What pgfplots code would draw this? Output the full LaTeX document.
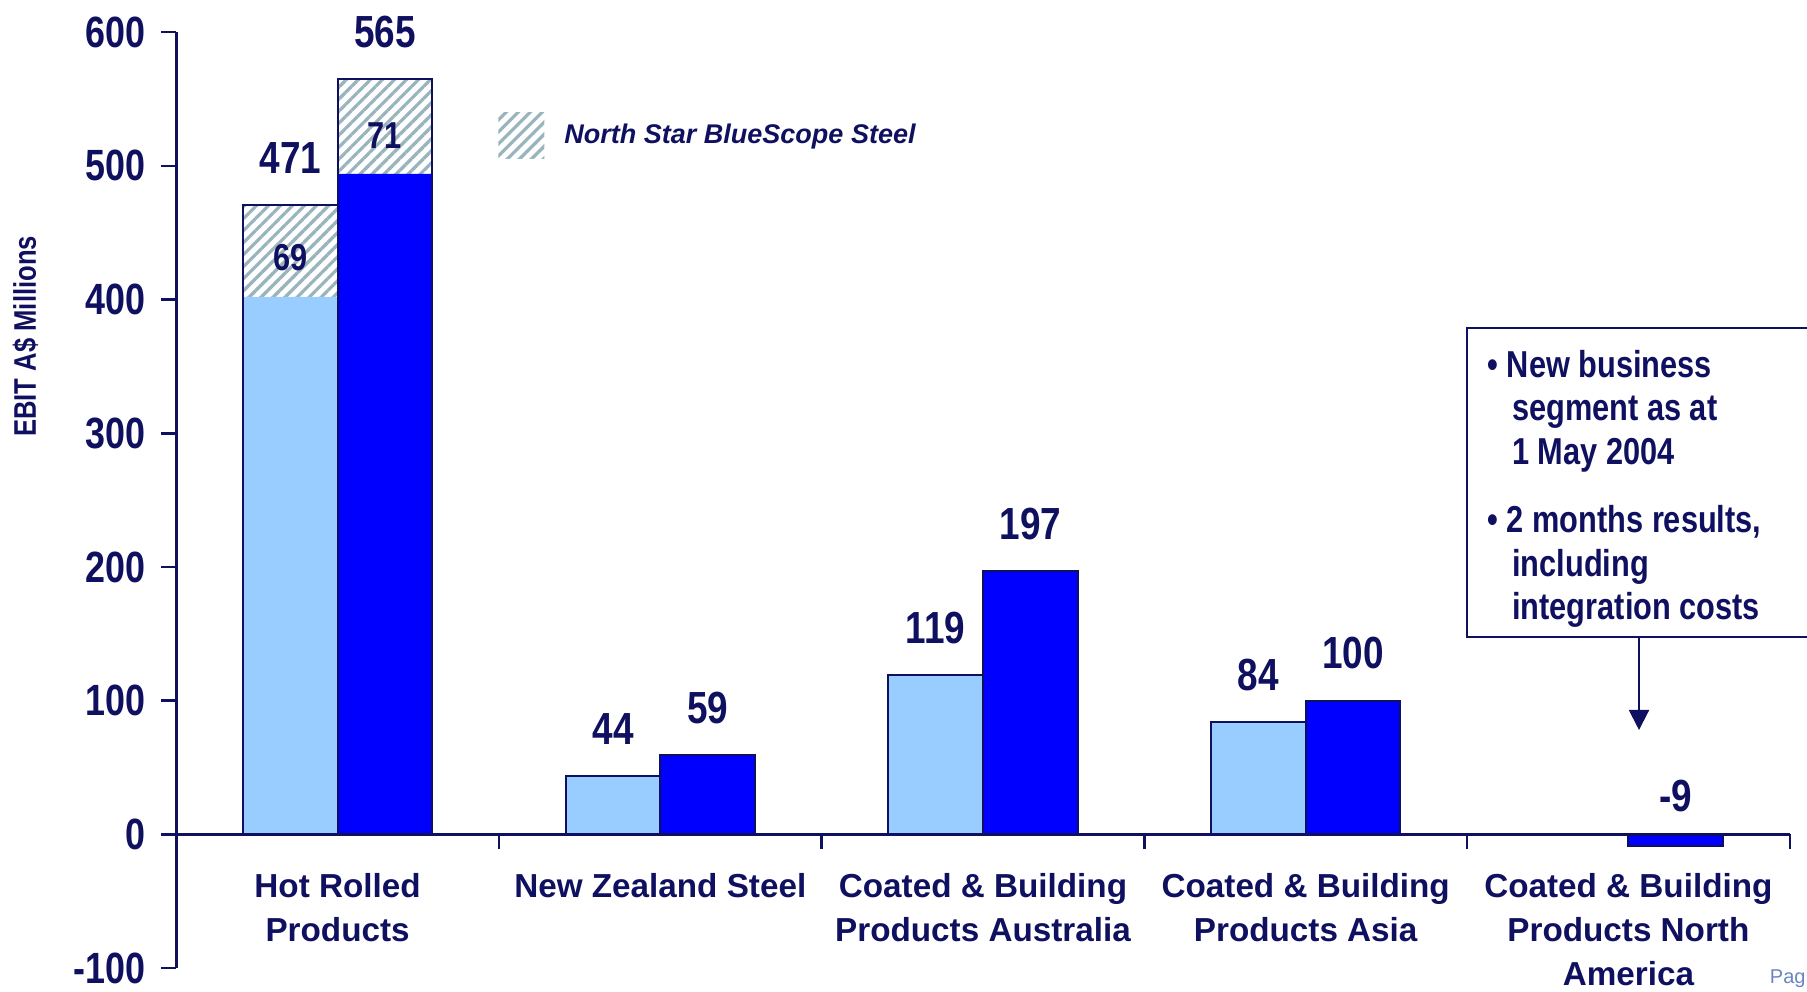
\documentclass[border=0pt]{standalone}
\usepackage{fontspec}
\setmainfont{Liberation Sans}
\newfontfamily\narrowfont[FakeStretch=0.82]{Liberation Sans}
\usepackage{pgfplots}
\pgfplotsset{compat=1.18}
\usetikzlibrary{patterns,patterns.meta,arrows.meta}
\definecolor{navy}{HTML}{101060}
\definecolor{lightbar}{HTML}{99CCFF}
\definecolor{darkbar}{HTML}{0000FF}
\definecolor{hatch}{HTML}{99B4BC}
\definecolor{pagec}{HTML}{6A86C2}
\newcommand\valfont{\narrowfont\bfseries\fontsize{18}{20}\selectfont}
\newcommand\tickfont{\narrowfont\bfseries\fontsize{17.5}{20}\selectfont}
\newcommand\catfont{\bfseries\fontsize{13.3}{17.5}\selectfont}
\newcommand\innerfont{\narrowfont\bfseries\fontsize{15}{17}\selectfont}
\newcommand\boxfont{\narrowfont\bfseries\fontsize{15}{17.4}\selectfont}
\newcommand\ylabfont{\narrowfont\bfseries\fontsize{12.5}{14}\selectfont}
\newcommand\legfont{\bfseries\itshape\fontsize{10.8}{13}\selectfont}
\begin{document}
\begin{tikzpicture}
\path[use as bounding box] (0,0) rectangle (722.8pt,396.4pt);
\begin{axis}[
  at={(70.5pt,9.2pt)}, anchor=south west,
  width=645.4pt, height=374.3pt, scale only axis,
  xmin=-0.5, xmax=4.5, ymin=-100, ymax=600,
  clip=false, axis on top,
  axis x line*=middle, axis y line*=left,
  axis line style={navy, line width=1pt},
  tick align=outside,
  major tick length=6pt,
  tick style={navy, line width=1pt},
  ytick={-100,0,100,200,300,400,500,600},
  yticklabels={-100,0,100,200,300,400,500,600},
  yticklabel style={font=\tickfont, text=navy, anchor=east, inner sep=0pt, xshift=-6.3pt},
  xtick={-0.5,0.5,1.5,2.5,3.5,4.5},
  xticklabels={,,,,,},
  extra x ticks={0,1,2,3,4},
  extra x tick labels={Hot Rolled\\Products, New Zealand Steel, Coated \& Building\\Products Australia, Coated \& Building\\Products Asia, Coated \& Building\\Products North\\America},
  extra x tick style={major tick length=0pt, tick label style={font=\catfont, text=navy, align=center, anchor=north, inner sep=0pt, yshift=-15.6pt}},
  ylabel={EBIT A\$ Millions},
  ylabel style={font=\ylabfont, text=navy, at={(rel axis cs:-0.0935,0.675)}, anchor=center},
  legend style={draw=none, fill=none, at={(rel axis cs:0.1994,0.890)}, anchor=west, font=\legfont, text=navy, inner sep=0pt, /tikz/every odd column/.append style={column sep=6pt}},
  legend cell align=left,
]
\addplot[ybar, bar width=0.293, bar shift=0pt, draw=none,
  pattern={Lines[angle=45,distance=3.4pt,line width=1.3pt]}, pattern color=hatch,
  legend image code/.code={\path[pattern={Lines[angle=45,distance=3.4pt,line width=1.3pt]}, pattern color=hatch] (0pt,-9.2pt) rectangle (18.4pt,9.2pt);}]
  coordinates {(-0.1465,471) (0.1465,565)};
\addlegendentry{North Star BlueScope Steel}
\addplot[ybar, bar width=0.293, bar shift=0pt, draw=none, fill=lightbar, forget plot]
  coordinates {(-0.1465,402) (0.8535,44) (1.8535,119) (2.8535,84)};
\addplot[ybar, bar width=0.293, bar shift=0pt, draw=none, fill=darkbar, forget plot]
  coordinates {(0.1465,494) (1.1465,59) (2.1465,197) (3.1465,100) (4.1465,-9)};
\addplot[ybar, bar width=0.293, bar shift=0pt, draw=navy, line width=0.8pt, fill=none, forget plot]
  coordinates {(-0.1465,471) (0.8535,44) (1.8535,119) (2.8535,84)};
\addplot[ybar, bar width=0.293, bar shift=0pt, draw=navy, line width=0.8pt, fill=none, forget plot]
  coordinates {(0.1465,565) (1.1465,59) (2.1465,197) (3.1465,100) (4.1465,-9)};
% totals
\addplot[draw=none, mark=none, forget plot, nodes near coords, point meta=explicit symbolic,
  every node near coord/.append style={font=\valfont, text=navy, inner sep=0pt, anchor=south}]
  table[meta=lab] {
x y lab
-0.1465 494 471
0.1465 588 565
0.8535 67 44
1.1465 82 59
1.8535 142 119
2.1465 220 197
2.8535 107 84
3.1465 123 100
4.1465 16 -9
};
% inner labels
\addplot[draw=none, mark=none, forget plot, nodes near coords, point meta=explicit symbolic,
  every node near coord/.append style={font=\innerfont, text=navy, inner sep=0pt, anchor=south}]
  table[meta=lab] {
x y lab
-0.1465 421 69
0.1465 513 71
};
\end{axis}
\draw[navy, line width=0.8pt] (586.8pt,141.6pt) rectangle (740pt,265.2pt);
\node[anchor=north west, inner sep=0pt, align=left, font=\boxfont, text=navy] at (594.8pt,256.6pt)
 {\textbullet\ New business\\\hspace*{9.9pt}segment as at\\\hspace*{9.9pt}1 May 2004\\[10pt]\textbullet\ 2 months results,\\\hspace*{9.9pt}including\\\hspace*{9.9pt}integration costs};
\draw[navy, line width=0.8pt, -{Triangle[width=8pt,length=8pt]}] (655.6pt,141.6pt) -- (655.6pt,104.4pt);
\node[anchor=base east, inner sep=0pt, font=\fontsize{8}{9}\selectfont, text=pagec] at (722.4pt,3.2pt) {Pag};
\end{tikzpicture}
\end{document}
